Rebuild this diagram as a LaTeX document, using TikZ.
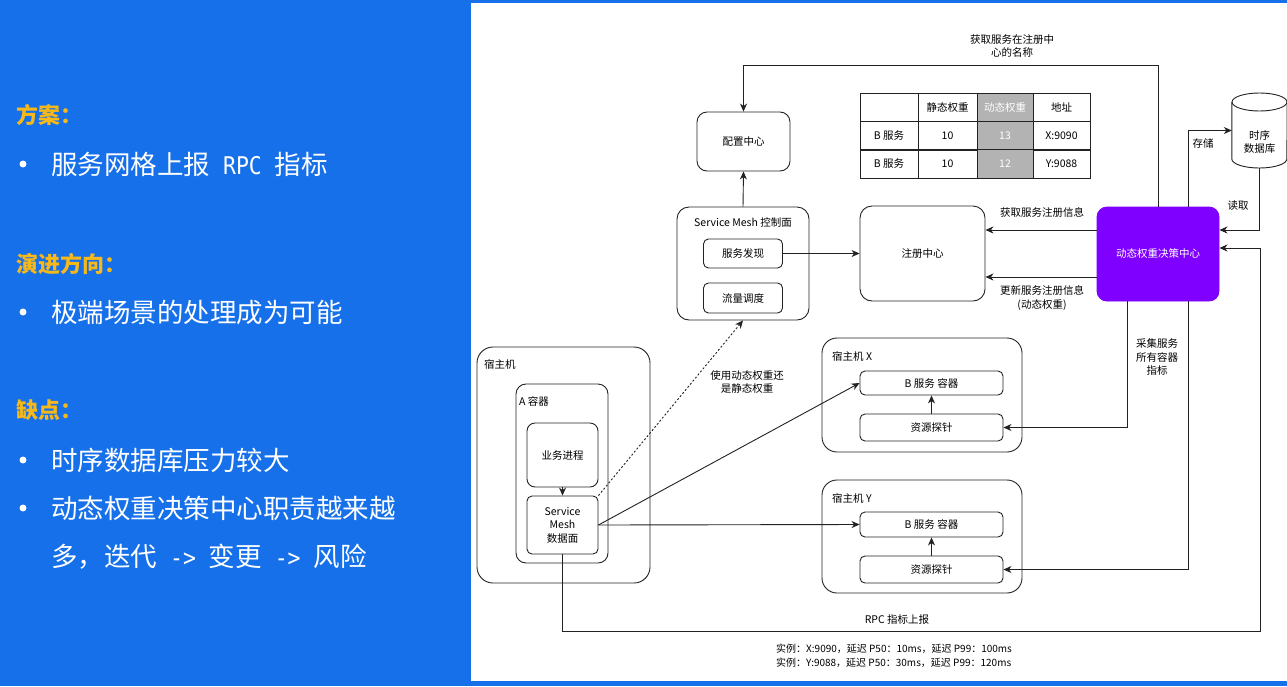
\documentclass[tikz,border=0pt]{standalone}
\usepackage{fontspec}
\setmainfont{Noto Sans CJK SC}
\newfontfamily\halfmono{DejaVu Sans Mono}[Scale=0.92,FakeStretch=0.88]
\usetikzlibrary{arrows.meta}
\definecolor{slideblue}{HTML}{1570EA}
\definecolor{headyellow}{HTML}{F6B81A}
\definecolor{deciviolet}{HTML}{7F00FF}
\definecolor{cellgray}{HTML}{B3B3B3}
\definecolor{wire}{HTML}{222222}

\begin{document}
\begin{tikzpicture}[x=1pt,y=-1pt,
  every node/.style={font=\fontsize{10.5}{13.5}\selectfont, inner sep=1pt},
  rbox/.style={draw=wire, line width=0.9pt, rounded corners=#1, align=center},
  rbox/.default=5pt,
  plain/.style={draw=wire, line width=0.9pt},
  wirearr/.style={plain, -{Stealth[length=8pt,width=7pt,inset=2.5pt]}},
  lbl/.style={align=center},
  head/.style={anchor=west, text=headyellow, font=\fontsize{22}{26}\selectfont\bfseries},
  item/.style={anchor=west, text=white, font=\fontsize{26.5}{30}\selectfont},
  cell/.style={draw=wire, line width=0.9pt, minimum height=28.5pt, inner sep=0pt},
]
\useasboundingbox (0,0) rectangle (1287,686);
\fill[slideblue] (0,0) rectangle (1287,686);
\fill[white] (471,3) rectangle (1287,681);

% left panel
\node[head] (plan) at (15,115) {方案：};
\node[item] (plan1) at (50,164) {服务网格上报{\halfmono\ RPC\ }指标};
\node[head] (trend) at (15,264) {演进方向：};
\node[item] (trend1) at (50,312) {极端场景的处理成为可能};
\node[head] (cons) at (15,410) {缺点：};
\node[item] (cons1) at (50,460) {时序数据库压力较大};
\node[item] (cons2) at (50,508) {动态权重决策中心职责越来越};
\node[item] (cons2b) at (50,557) {多，迭代{\halfmono\ ->\ }变更{\halfmono\ ->\ }风险};
\foreach \yy [count=\i] in {164,312,460,508}{
  \node[circle, fill=white, inner sep=0pt, minimum size=7pt] (dot\i) at (23,\yy) {};
}

% control side
\node[rbox=10pt, minimum width=93pt, minimum height=59pt] (cfg) at (743.5,141.5) {配置中心};
\node[rbox=12pt, minimum width=132pt, minimum height=113pt] (ctrl) at (743,263.5) {};
\node[lbl] (ctrltxt) at (743,222) {Service Mesh 控制面};
\node[rbox, minimum width=79pt, minimum height=29pt] (disc) at (743,253.5) {服务发现};
\node[rbox, minimum width=79pt, minimum height=30pt] (flow) at (743,298) {流量调度};
\node[rbox=12pt, minimum width=125pt, minimum height=95pt] (reg) at (922.5,253.5) {注册中心};
\node[rbox=10pt, draw=deciviolet, fill=deciviolet, text=white, minimum width=122pt, minimum height=94pt] (dec) at (1158,254) {动态权重决策中心};

% weight table
\foreach \yy/\a/\b/\c/\d [count=\r] in {107.5/{}/静态权重/动态权重/地址, 136/B 服务/10/13/X:9090, 164/B 服务/10/12/Y:9088}{
  \node[cell, minimum width=58pt] (t\r-a) at (889,\yy) {\a};
  \node[cell, minimum width=59pt] (t\r-b) at (947.5,\yy) {\b};
  \node[cell, fill=cellgray, text=white, minimum width=56pt] (t\r-c) at (1005,\yy) {\c};
  \node[cell, minimum width=57pt] (t\r-d) at (1061.5,\yy) {\d};
}

% time series db
\node[minimum width=55pt, minimum height=75pt, inner sep=0pt] (tsdb) at (1259.5,130.5) {};
\draw[plain, fill=white] (tsdb.west |- 0,102) -- (tsdb.west |- 0,159)
  arc[start angle=180, end angle=0, x radius=27.5, y radius=9] -- (tsdb.east |- 0,102);
\draw[plain] (1259.5,102) ellipse [x radius=27.5, y radius=9];
\node[lbl] (tsdbtxt) at (1259.5,142) {时序\\数据库};

% hosts B
\node[rbox=15pt, minimum width=200pt, minimum height=114pt] (hostX) at (922,395) {};
\node[anchor=west] (hostXtxt) at (831,356) {宿主机 X};
\node[rbox, minimum width=143pt, minimum height=24pt] (bX) at (931.5,383) {B 服务 容器};
\node[rbox, minimum width=143pt, minimum height=27pt] (probeX) at (931.5,427.5) {资源探针};
\node[rbox=15pt, minimum width=200pt, minimum height=113pt] (hostY) at (922,536.5) {};
\node[anchor=west] (hostYtxt) at (831,498) {宿主机 Y};
\node[rbox, minimum width=143pt, minimum height=25pt] (bY) at (931.5,524.5) {B 服务 容器};
\node[rbox, minimum width=143pt, minimum height=27pt] (probeY) at (931.5,569.5) {资源探针};

% host A
\node[rbox=16pt, minimum width=173pt, minimum height=236pt] (hostA) at (563.5,465) {};
\node[anchor=west] (hostAtxt) at (483,364) {宿主机};
\node[rbox=10pt, minimum width=92pt, minimum height=179pt] (contA) at (562,473.5) {};
\node[anchor=west] (contAtxt) at (518,401) {A 容器};
\node[rbox=8pt, minimum width=71pt, minimum height=64pt] (biz) at (562.5,455) {业务进程};
\node[rbox, minimum width=71pt, minimum height=58pt] (dp) at (562.5,525) {Service\\Mesh\\数据面};

% connectors
\coordinate (cfgtop) at (743.5,65);
\draw[wirearr] (dec.north) |- (cfgtop) -- (cfg.north);
\node[lbl] (toplbl) at (1012,46) {获取服务在注册中\\心的名称};
\draw[wirearr] (ctrl.north) -- (cfg.south);
\draw[wirearr] (disc.east) -- (disc.east -| reg.west);
\draw[wirearr] (dec.west |- 0,230) -- (reg.east |- 0,230);
\node[lbl] (getlbl) at (1042,212) {获取服务注册信息};
\draw[wirearr] (dec.west |- 0,277) -- (reg.east |- 0,277);
\node[lbl] (updlbl) at (1042,298) {更新服务注册信息\\(动态权重)};
\draw[wirearr] (dec.north -| 1188,0) |- (tsdb.west);
\node[lbl] (savelbl) at (1203,143) {存储};
\draw[wirearr] (tsdb.south) |- (dec.east |- 0,230);
\node[lbl] (readlbl) at (1238,206) {读取};
\draw[wirearr] (dec.south -| 1127,0) |- (probeX.east);
\node[lbl] (colllbl) at (1157,357) {采集服务\\所有容器\\指标};
\draw[wirearr] (dec.south -| 1188,0) |- (probeY.east);
\draw[wirearr] (probeX.north) -- (bX.south);
\draw[wirearr] (probeY.north) -- (bY.south);
\draw[wirearr] (biz.south) -- (dp.north);
\draw[wirearr] (dp.east) -- (bX.west);
\draw[wirearr] (dp.east) -- (bY.west);
\draw[wirearr, dash pattern=on 2pt off 2pt] (dp.north east) -- (ctrl.south);
\node[lbl] (uselbl) at (747,382) {使用动态权重还\\是静态权重};
\draw[wirearr] (dp.south) |- (1260,631) -- (1260,248) -- (dec.east |- 0,248);
\node[lbl] (rpclbl) at (897,620) {RPC 指标上报};
\node[align=left, anchor=west, font=\fontsize{10}{14}\selectfont] (inst) at (775,656)
  {实例：X:9090，延迟 P50：10ms，延迟 P99：100ms\\实例：Y:9088，延迟 P50：30ms，延迟 P99：120ms};
\end{tikzpicture}
\end{document}
